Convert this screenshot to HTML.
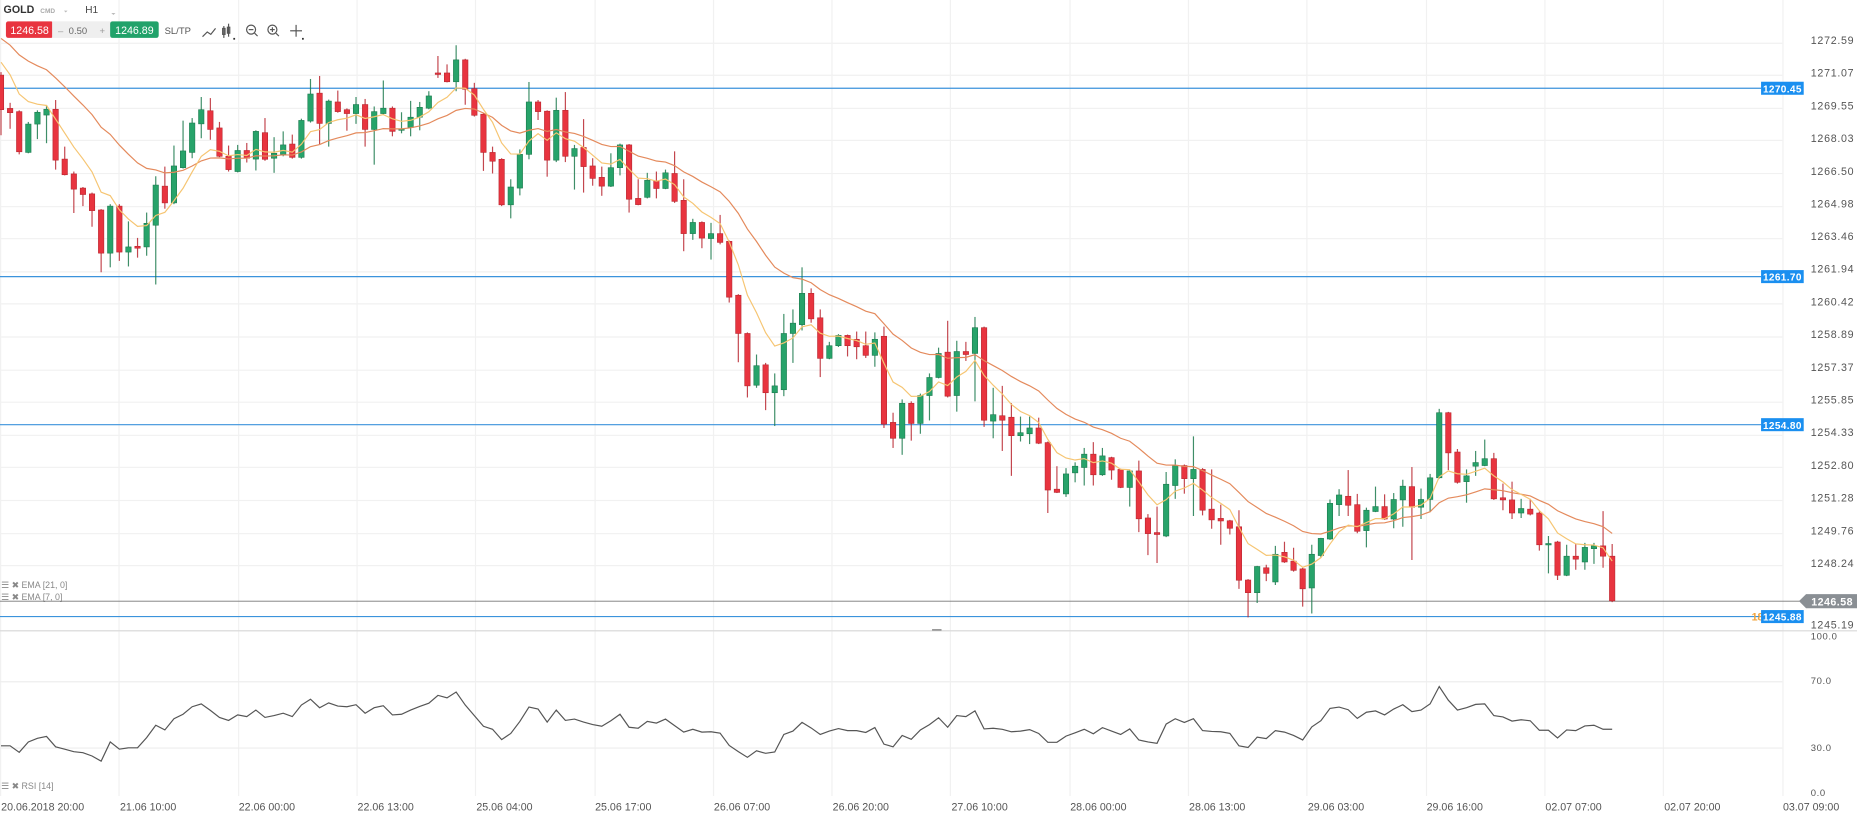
<!DOCTYPE html>
<html><head><meta charset="utf-8"><title>GOLD H1</title>
<style>
html,body{margin:0;padding:0;background:#fff;overflow:hidden}
svg{display:block;font-family:"Liberation Sans",sans-serif}
</style></head>
<body>
<svg id="chart" width="1857" height="815" viewBox="0 0 1568 688" preserveAspectRatio="none" xmlns="http://www.w3.org/2000/svg">
  <g id="grid"></g>
  <g id="rsi-grid"></g>
  <g id="levels"></g>
  <g id="candles" clip-path="url(#mainclip)"></g>
  <g id="emas" clip-path="url(#mainclip)"></g>
  <g id="rsi"></g>
  <g id="axis"></g>
  <g id="dates"></g>
  <defs><clipPath id="mainclip"><rect x="0" y="0" width="1505" height="532"/></clipPath></defs>

  <line x1="0" y1="532.5" x2="1568" y2="532.5" stroke="#d8d8d8" stroke-width="1"/>
  <rect x="787" y="531" width="8" height="1.5" fill="#999"/>

  <g>
    <text x="3" y="11" font-size="9" font-weight="bold" fill="#333">GOLD</text>
    <text x="34" y="11" font-size="5.5" font-weight="bold" fill="#aaa">CMD</text>
    <path d="M54 9 l3 0 l-1.5 1.5z" fill="#bbb"/>
    <text x="72" y="11" font-size="8.5" fill="#444">H1</text>
    <path d="M94 11 l3.5 0 l-1.75 1.7z" fill="#bbb"/>
  </g>
  <g>
    <rect x="5" y="18" width="40" height="14" rx="2" fill="#e8343f"/>
    <text x="25" y="28.5" font-size="9" fill="#fff" text-anchor="middle">1246.58</text>
    <rect x="44" y="18" width="50" height="14" fill="#efefef"/>
    <text x="49" y="28.5" font-size="8" fill="#999">–</text>
    <text x="58" y="28.5" font-size="8" fill="#666">0.50</text>
    <text x="84" y="28.5" font-size="8" fill="#999">+</text>
    <rect x="93" y="18" width="41" height="14" rx="2" fill="#21a26a"/>
    <text x="113.5" y="28.5" font-size="9" fill="#fff" text-anchor="middle">1246.89</text>
    <text x="139" y="28.5" font-size="8" fill="#555">SL/TP</text>
    <path d="M171 31 l4 -4 l3 2 l4 -5" stroke="#555" fill="none" stroke-width="1"/>
    <g stroke="#555" stroke-width="1">
      <line x1="189" y1="22" x2="189" y2="32"/><rect x="188" y="24" width="2" height="5" fill="none"/>
      <line x1="193" y1="20" x2="193" y2="31"/><rect x="192" y="23" width="2" height="5" fill="none"/>
      <rect x="197" y="32" width="1.5" height="1.5" fill="#333" stroke="none"/>
    </g>
    <g stroke="#555" stroke-width="1" fill="none">
      <circle cx="212" cy="25" r="3.8"/><line x1="215" y1="28" x2="217.5" y2="30.5"/><line x1="210" y1="25" x2="214" y2="25"/>
    </g>
    <g stroke="#555" stroke-width="1" fill="none">
      <circle cx="230" cy="25" r="3.8"/><line x1="233" y1="28" x2="235.5" y2="30.5"/><line x1="228" y1="25" x2="232" y2="25"/><line x1="230" y1="23" x2="230" y2="27"/>
    </g>
    <g stroke="#555" stroke-width="1" fill="none">
      <line x1="245" y1="26" x2="255" y2="26"/><line x1="250" y1="21" x2="250" y2="31"/>
      <rect x="255" y="32" width="1.5" height="1.5" fill="#333" stroke="none"/>
    </g>
  </g>

  <g>
    <text x="1" y="496.5" font-size="7.5" fill="#888">☰ ✖ EMA [21, 0]</text>
    <text x="1" y="506.5" font-size="7.5" fill="#888">☰ ✖ EMA [7, 0]</text>
    <text x="1" y="666" font-size="7.5" fill="#888">☰ ✖ RSI [14]</text>
  </g>
</svg>
<script>
const opens=[1271.06,1269.51,1269.36,1267.46,1268.78,1269.20,1269.47,1267.15,1266.46,1265.80,
1265.53,1264.78,1262.77,1264.96,1262.82,1263.09,1263.06,1264.07,1265.89,1265.11,
1266.75,1267.46,1268.79,1269.40,1268.60,1267.28,1266.57,1267.55,1267.15,1268.38,
1267.19,1267.37,1267.85,1267.23,1268.92,1270.22,1268.81,1269.81,1269.45,1269.27,
1269.69,1268.53,1269.27,1269.52,1268.49,1268.62,1269.10,1269.52,1271.16,1271.16,
1270.75,1271.77,1270.43,1269.24,1267.46,1267.14,1265.02,1265.80,1267.37,1269.81,
1269.38,1267.10,1269.42,1267.28,1267.69,1266.83,1266.30,1265.89,1266.75,1267.81,
1265.32,1265.37,1266.14,1265.78,1266.48,1265.23,1263.68,1264.20,1263.45,1263.68,
1263.32,1260.81,1259.03,1256.62,1257.57,1256.27,1256.41,1259.03,1259.44,1260.90,
1259.76,1257.87,1258.46,1258.94,1258.76,1258.46,1258.01,1258.90,1254.89,1254.15,
1255.78,1254.84,1256.14,1256.98,1258.16,1256.14,1258.19,1258.10,1259.30,1254.95,
1255.20,1255.13,1254.27,1254.36,1254.63,1253.95,1251.78,1251.56,1252.54,1252.79,
1253.41,1252.45,1253.25,1252.70,1251.86,1252.63,1250.44,1249.76,1249.60,1251.95,
1252.88,1252.27,1252.70,1250.85,1250.42,1250.31,1250.03,1247.55,1246.96,1248.12,
1247.46,1248.84,1248.43,1248.07,1247.18,1248.69,1249.46,1251.06,1251.45,1251.06,
1249.85,1250.74,1250.97,1250.39,1251.28,1251.90,1250.94,1251.30,1252.31,1255.34,
1253.51,1252.13,1252.85,1252.88,1253.20,1251.38,1251.28,1250.67,1250.85,1250.67,
1249.19,1249.32,1247.77,1248.66,1248.39,1249.01,1249.14,1248.66];
const highs=[1271.20,1269.77,1269.42,1268.88,1269.42,1269.67,1269.90,1267.73,1266.57,1265.85,
1265.59,1264.82,1265.05,1265.05,1264.25,1263.48,1264.66,1266.35,1266.80,1267.78,
1268.94,1269.06,1270.04,1269.99,1268.88,1267.78,1267.81,1267.90,1268.49,1269.06,
1268.17,1268.44,1268.29,1269.03,1270.88,1271.02,1269.92,1270.34,1269.51,1270.04,
1269.95,1269.60,1270.81,1269.60,1269.33,1269.86,1269.81,1270.31,1271.95,1271.56,
1272.45,1271.82,1270.70,1269.28,1267.73,1267.19,1266.21,1267.60,1270.74,1269.90,
1269.42,1270.01,1270.27,1267.81,1269.01,1267.19,1266.80,1267.42,1267.87,1267.85,
1266.21,1266.51,1266.57,1266.66,1267.51,1266.21,1264.37,1264.25,1264.18,1264.55,
1263.36,1260.86,1259.08,1258.05,1257.66,1257.17,1259.94,1260.15,1262.11,1261.13,
1260.15,1258.64,1259.00,1258.98,1259.12,1259.12,1259.08,1259.35,1255.34,1255.96,
1255.87,1256.23,1257.17,1258.37,1259.62,1258.69,1258.64,1259.80,1259.35,1256.50,
1256.59,1255.79,1255.16,1255.16,1255.11,1254.00,1252.85,1252.76,1253.03,1253.70,
1253.97,1253.70,1253.29,1252.74,1252.67,1253.11,1250.62,1250.97,1252.58,1253.17,
1252.93,1254.24,1252.76,1252.70,1251.06,1250.35,1250.80,1247.59,1248.21,1248.26,
1249.14,1249.33,1249.05,1248.12,1249.19,1249.51,1251.30,1251.78,1252.67,1251.56,
1250.92,1251.90,1251.54,1251.60,1252.22,1252.81,1251.81,1252.49,1255.52,1255.38,
1253.65,1252.70,1253.56,1254.09,1253.47,1252.04,1252.13,1251.33,1251.33,1250.74,
1249.60,1249.37,1249.19,1249.23,1249.28,1249.28,1250.76,1249.23];
const lows=[1268.26,1268.56,1267.37,1267.42,1268.08,1267.89,1266.66,1266.39,1264.64,1264.96,
1264.00,1261.88,1262.11,1262.41,1262.15,1262.56,1262.65,1261.31,1264.84,1265.05,
1266.71,1267.19,1268.12,1268.05,1267.24,1266.57,1266.53,1266.99,1266.62,1267.07,
1266.51,1267.28,1267.17,1267.17,1268.85,1267.85,1267.73,1269.31,1268.47,1268.79,
1267.73,1266.89,1269.20,1268.21,1268.35,1268.21,1268.49,1269.47,1270.93,1270.72,
1270.31,1269.68,1269.13,1266.60,1266.48,1264.96,1264.39,1265.46,1267.14,1268.97,
1266.33,1267.01,1267.01,1265.73,1265.59,1265.91,1265.44,1265.85,1266.39,1264.66,
1265.00,1265.32,1265.32,1265.75,1265.11,1262.86,1263.39,1263.00,1262.47,1263.18,
1260.47,1257.69,1256.05,1256.50,1255.46,1254.72,1256.11,1257.66,1259.17,1259.53,
1257.00,1257.83,1258.40,1257.96,1257.83,1257.89,1257.48,1254.63,1253.70,1253.38,
1254.04,1254.36,1254.98,1256.94,1256.05,1255.39,1257.75,1255.87,1254.68,1254.15,
1253.56,1252.40,1254.00,1253.88,1253.88,1250.67,1251.60,1251.42,1252.10,1251.95,
1251.95,1252.40,1252.22,1251.83,1250.97,1249.78,1248.71,1248.34,1249.55,1251.33,
1251.57,1250.53,1250.56,1249.94,1249.19,1249.67,1247.14,1245.81,1246.48,1247.50,
1247.32,1248.35,1247.94,1246.31,1245.99,1248.60,1249.42,1250.53,1250.53,1249.73,
1249.07,1250.71,1250.35,1249.96,1250.03,1248.48,1250.39,1250.71,1252.27,1252.67,
1252.04,1251.15,1252.40,1252.85,1251.28,1250.80,1250.39,1250.44,1250.56,1248.92,
1247.86,1247.55,1247.73,1248.03,1248.03,1248.30,1248.12,1246.52];
const closes=[1269.45,1269.31,1267.49,1268.78,1269.33,1269.47,1267.10,1266.42,1265.75,1265.50,
1264.75,1262.77,1264.96,1262.82,1263.06,1263.00,1264.16,1265.94,1265.11,1266.83,
1267.53,1268.83,1269.45,1268.53,1267.28,1266.66,1267.55,1267.19,1268.44,1267.14,
1267.42,1267.81,1267.23,1268.95,1270.18,1268.81,1269.85,1269.36,1269.27,1269.69,
1268.53,1269.36,1269.52,1268.44,1268.56,1269.10,1269.56,1270.09,1271.09,1270.75,
1271.77,1270.40,1269.19,1267.46,1267.05,1265.02,1265.85,1267.37,1269.81,1269.36,
1267.10,1269.42,1267.28,1267.64,1266.80,1266.25,1265.89,1266.75,1267.81,1265.28,
1265.03,1266.16,1265.78,1266.51,1265.18,1263.68,1264.20,1263.47,1263.68,1263.27,
1260.72,1259.03,1256.59,1257.53,1256.27,1256.59,1259.03,1259.51,1260.90,1259.71,
1257.87,1258.46,1258.94,1258.46,1258.41,1258.01,1258.76,1254.81,1254.15,1255.78,
1254.84,1256.14,1256.98,1258.10,1256.11,1258.19,1258.05,1259.30,1254.99,1255.25,
1254.99,1254.27,1254.41,1254.63,1253.92,1251.74,1251.63,1252.49,1252.85,1253.41,
1252.45,1253.33,1252.67,1251.86,1252.63,1250.40,1249.71,1249.67,1252.01,1252.88,
1252.27,1252.70,1250.80,1250.35,1250.30,1249.96,1247.54,1246.96,1248.18,1247.86,
1248.75,1248.39,1248.00,1247.14,1248.75,1249.49,1251.12,1251.51,1251.03,1249.82,
1250.80,1250.97,1250.39,1251.30,1251.92,1250.94,1251.30,1252.31,1255.34,1253.47,
1252.10,1252.40,1253.02,1253.20,1251.33,1251.28,1250.67,1250.88,1250.62,1249.19,
1249.25,1247.77,1248.66,1248.52,1249.07,1249.14,1248.66,1246.58];
const rsiValues=[31.0,31.0,27.1,33.3,35.5,36.6,30.4,29.0,27.5,26.9,
24.9,21.8,33.3,29.0,29.8,29.8,35.9,43.3,40.5,47.2,
49.9,54.4,56.1,52.2,48.0,46.2,49.5,48.5,52.4,48.0,
49.1,50.5,48.5,55.4,58.9,53.8,56.7,54.8,54.4,55.6,
50.5,53.8,55.0,49.5,49.9,52.4,54.6,56.5,61.2,59.7,
63.2,55.4,49.1,42.7,40.9,34.7,38.4,45.6,54.2,53.0,
45.2,52.4,46.2,47.0,45.2,43.7,42.7,46.0,49.9,42.1,
41.5,45.6,44.6,47.0,43.1,39.2,40.9,39.2,39.4,38.6,
31.2,27.5,24.1,28.0,26.5,27.3,37.8,39.8,45.0,41.7,37.8,
39.8,41.3,40.1,40.1,39.0,41.9,32.0,30.4,37.2,34.9,
40.5,43.7,47.8,42.1,49.1,48.5,51.9,41.1,41.5,40.9,
39.4,39.8,40.7,38.4,33.1,33.1,36.8,38.8,40.9,38.2,
41.9,39.8,37.8,41.1,34.5,33.3,32.5,44.0,47.2,45.0,
47.2,40.1,39.6,39.4,38.4,31.0,30.0,36.2,35.3,40.1,
39.2,37.2,34.5,42.3,46.0,53.4,54.2,52.6,47.4,51.1,
51.9,49.5,53.0,55.6,51.5,52.4,56.1,66.5,58.3,52.4,
53.8,55.8,56.1,49.1,48.3,45.8,46.6,46.0,40.3,40.3,
35.7,40.5,40.1,42.9,43.3,40.9,40.9];
const priceTicks=["1272.59","1271.07","1269.55","1268.03","1266.50","1264.98","1263.46","1261.94","1260.42","1258.89","1257.37","1255.85","1254.33","1252.80","1251.28","1249.76","1248.24","1245.19"];
const levelValues=[1270.45,1261.70,1254.80,1245.88];
const levelLabels=["1270.45","1261.70","1254.80","1245.88"];
const currentPrice=1246.58;
const rsiTicks=[100,70,30,0];
const rsiTickLabels=["100.0","70.0","30.0","0.0"];
const dateLabels=["20.06.2018 20:00","21.06 10:00","22.06 00:00","22.06 13:00","25.06 04:00","25.06 17:00","26.06 07:00","26.06 20:00","27.06 10:00","28.06 00:00","28.06 13:00","29.06 03:00","29.06 16:00","02.07 07:00","02.07 20:00","03.07 09:00"];
const ema7Seed=1272.4, ema21Seed=1273.1;

const NS="http://www.w3.org/2000/svg";
function yP(p){return 25.33+(1273.16-p)*18.13;}
function xC(i){return 0.85+i*7.686;}
function yR(v){return 631-(v-30)*1.41;}
function mk(tag,attrs,parent){const e=document.createElementNS(NS,tag);for(const k in attrs)e.setAttribute(k,attrs[k]);parent.appendChild(e);return e;}

const grid=document.getElementById('grid');
priceTicks.forEach(t=>{const y=Math.round(yP(parseFloat(t)))+0.5;
  const l=mk('line',{x1:0,x2:1505,y1:y,y2:y,stroke:'#f1f1f1','stroke-width':1},grid);
  
  });
dateLabels.forEach((d,j)=>{const x=Math.round(j*100.3)+0.5;
  const l=mk('line',{x1:x,x2:x,y1:0,y2:672,stroke:'#f1f1f1','stroke-width':1},grid);
  
  });

const rg=document.getElementById('rsi-grid');
[70,30].forEach(v=>{const y=Math.round(yR(v))+0.5;
  const l=mk('line',{x1:0,x2:1505,y1:y,y2:y,stroke:'#eeeeee','stroke-width':1},rg);
  
  });

const cg=document.getElementById('candles');
for(let i=0;i<closes.length;i++){
  const o=opens[i],c=closes[i],h=highs[i],lo=lows[i];
  const up=c>=o; const x=xC(i);
  const body=up?'#27a36a':'#e8343f', edge=up?'#1c7a4e':'#b8262f';
  const g=mk('g',{},cg);
  
  
  mk('line',{x1:x,x2:x,y1:yP(h),y2:yP(lo),stroke:edge,'stroke-width':1,'stroke-opacity':0.85},g);
  const yt=yP(Math.max(o,c)), yb=yP(Math.min(o,c));
  mk('rect',{x:x-2.3,y:yt,width:4.6,height:Math.max(1.2,yb-yt),fill:body,stroke:edge,'stroke-width':0.5},g);
}

function ema(seed,n){const a=2/(n+1);let e=seed;const out=[];closes.forEach(c=>{e=e+a*(c-e);out.push(e);});return out;}
const eg=document.getElementById('emas');
const e21=ema(ema21Seed,21), e7=ema(ema7Seed,7);
const p21=mk('polyline',{points:e21.map((v,i)=>xC(i)+','+yP(v)).join(' '),fill:'none',stroke:'#e48a5c','stroke-width':1},eg);


const p7=mk('polyline',{points:e7.map((v,i)=>xC(i)+','+yP(v)).join(' '),fill:'none',stroke:'#f6c572','stroke-width':1},eg);



const rl=document.getElementById('rsi');
const rp=mk('polyline',{points:rsiValues.map((v,i)=>xC(i)+','+yR(v)).join(' '),fill:'none',stroke:'#555','stroke-width':1},rl);



const lv=document.getElementById('levels');
levelValues.forEach((p,k)=>{const y=Math.round(yP(p))+0.5;
  const l=mk('line',{x1:0,x2:1487,y1:y,y2:y,stroke:'#3b93dc','stroke-width':1},lv);
  
  
  if(k===3){const t=mk('text',{x:1479,y:y+3.5,'font-size':9,'font-weight':'bold',fill:'#f2a33a'},lv);t.textContent='18:14:13';
    
    }
  const r=mk('rect',{x:1487,y:y-5.5,width:36,height:11,fill:'#1a8ff0'},lv);
  
  
  const t=mk('text',{x:1505,y:y+3.5,'font-size':8.5,'font-weight':'bold',fill:'#fff','text-anchor':'middle','letter-spacing':'0.3'},lv);
  t.textContent=levelLabels[k];
  
  
});
const cy=Math.round(yP(currentPrice))+0.5;
const cl=mk('line',{x1:0,x2:1520,y1:cy,y2:cy,stroke:'#777','stroke-width':0.8},lv);


const cb=mk('path',{d:`M1519 ${cy} L1525 ${cy-6} L1568 ${cy-6} L1568 ${cy+6} L1525 ${cy+6} Z`,fill:'#8a8f94'},lv);


const ct=mk('text',{x:1547,y:cy+3.5,'font-size':9,'font-weight':'bold',fill:'#fff','text-anchor':'middle','letter-spacing':'0.4'},lv);
ct.textContent=currentPrice.toFixed(2);



const ax=document.getElementById('axis');
priceTicks.forEach(t=>{let y=yP(parseFloat(t))+1.5; if(y>530)y=530.5;
  const e=mk('text',{x:1529,y:y,'font-size':9,fill:'#555','letter-spacing':'0.6'},ax);
  e.textContent=t;
  
  });
rsiTicks.forEach((v,k)=>{let y=yR(v)+3; if(v===100)y=540; if(v===0)y=672;
  const e=mk('text',{x:1529,y:y,'font-size':8,fill:'#555','letter-spacing':'0.5'},ax);
  e.textContent=rsiTickLabels[k];
  
  });

const dg=document.getElementById('dates');
dateLabels.forEach((d,j)=>{
  const e=mk('text',{x:j*100.3+1,y:684,'font-size':9,fill:'#555'},dg);
  e.textContent=d;
  
  });
</script>
</body></html>
